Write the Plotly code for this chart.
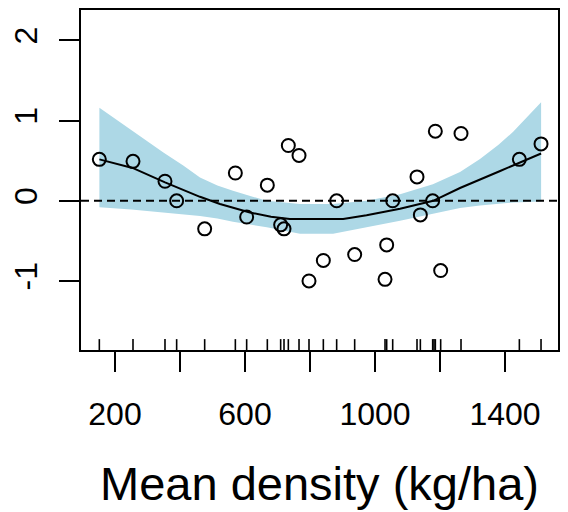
import plotly.graph_objects as go

# Partial residuals (points)
pt_x = [151.8, 255.4, 353.8, 389.7, 475.9, 570.3, 605.1, 668.7, 709.7, 720.0,
        733.3, 766.2, 796.9, 841.0, 882.0, 937.4, 1030.8, 1035.9, 1054.4, 1129.2,
        1139.5, 1177.4, 1185.6, 1202.0, 1264.6, 1444.1, 1510.8]
pt_y = [0.517, 0.492, 0.244, 0.0, -0.35, 0.347, -0.202, 0.195, -0.30, -0.35,
        0.69, 0.566, -1.0, -0.744, 0.0, -0.67, -0.98, -0.55, 0.0, 0.298,
        -0.176, 0.0, 0.868, -0.87, 0.84, 0.517, 0.71]

# Rug (observed x values)
rug_x = [151.8, 255.4, 353.8, 389.7, 475.9, 570.3, 605.1, 668.7, 709.7, 720.0,
         733.3, 766.2, 796.9, 841.0, 882.0, 937.4, 1030.8, 1035.9, 1054.4, 1129.2,
         1139.5, 1177.4, 1181.5, 1185.6, 1202.0, 1264.6, 1444.1, 1510.8]

# Smooth fit
fit_x = [152, 254, 354, 461.5, 523, 615, 680, 738, 820, 902, 974, 1077, 1179, 1261.5, 1385, 1511]
fit_y = [0.517, 0.41, 0.23, 0.05, -0.04, -0.145, -0.20, -0.227, -0.228, -0.227, -0.18, -0.10, 0.0, 0.16, 0.372, 0.59]

# Confidence band
band_x = [152, 250, 350, 410, 461.5, 515, 563, 667, 769, 871, 974, 1077, 1178, 1261.5, 1323, 1380, 1425, 1511]
band_up = [1.16, 0.88, 0.60, 0.44, 0.29, 0.19, 0.124, 0.0, -0.04, -0.04, 0.0, 0.083, 0.207, 0.36, 0.52, 0.70, 0.86, 1.23]
band_lo = [-0.08, -0.11, -0.15, -0.17, -0.19, -0.22, -0.26, -0.33, -0.41, -0.41, -0.33, -0.248, -0.165, -0.09, -0.06, -0.035, -0.02, -0.01]

x_ticks = [200, 400, 600, 800, 1000, 1200, 1400]
x_ticktext = ["200", "", "600", "", "1000", "", "1400"]
y_ticks = [-1, 0, 1, 2]
y_ticktext = ["-1", "0", "1", "2"]

FONT = "Liberation Sans, Arial, sans-serif"

fig = go.Figure()
fig.add_trace(go.Scatter(
    x=band_x + band_x[::-1], y=band_up + band_lo[::-1],
    fill="toself", fillcolor="#ADD8E6", line=dict(width=0), mode="lines",
    hoverinfo="skip", showlegend=False))
fig.add_trace(go.Scatter(
    x=[95.4, 1563], y=[0, 0], mode="lines",
    line=dict(color="black", width=2, dash="8px,5px"), showlegend=False))
fig.add_trace(go.Scatter(
    x=fit_x, y=fit_y, mode="lines",
    line=dict(color="black", width=2), showlegend=False))
fig.add_trace(go.Scatter(
    x=pt_x, y=pt_y, mode="markers",
    marker=dict(symbol="circle-open", size=13, color="black", line=dict(width=2)),
    showlegend=False))

for rx in rug_x:
    fig.add_shape(type="line", xref="x", yref="y domain", x0=rx, x1=rx, y0=0, y1=0.032,
                  line=dict(color="black", width=1.6))

fig.update_layout(
    width=568, height=512,
    margin=dict(l=81, r=10, t=8, b=162),
    plot_bgcolor="white", paper_bgcolor="white",
    font=dict(family=FONT, color="black", size=32),
)
fig.update_xaxes(
    range=[95.4, 1563], showgrid=False, zeroline=False,
    showline=True, linecolor="black", linewidth=2, mirror=True,
    ticks="outside", ticklen=20, tickwidth=1.8, tickcolor="black",
    tickvals=x_ticks, ticktext=x_ticktext, tickfont=dict(size=32),
    ticklabelstandoff=15,
    title=dict(text="Mean density (kg/ha)", font=dict(size=47), standoff=36),
)
fig.update_yaxes(
    range=[-1.861, 2.38], showgrid=False, zeroline=False,
    showline=True, linecolor="black", linewidth=2, mirror=True,
    ticks="outside", ticklen=20, tickwidth=1.8, tickcolor="black",
    tickvals=y_ticks, ticktext=y_ticktext, tickangle=-90, tickfont=dict(size=32),
    ticklabelstandoff=9,
)

fig.write_html("out.html")
